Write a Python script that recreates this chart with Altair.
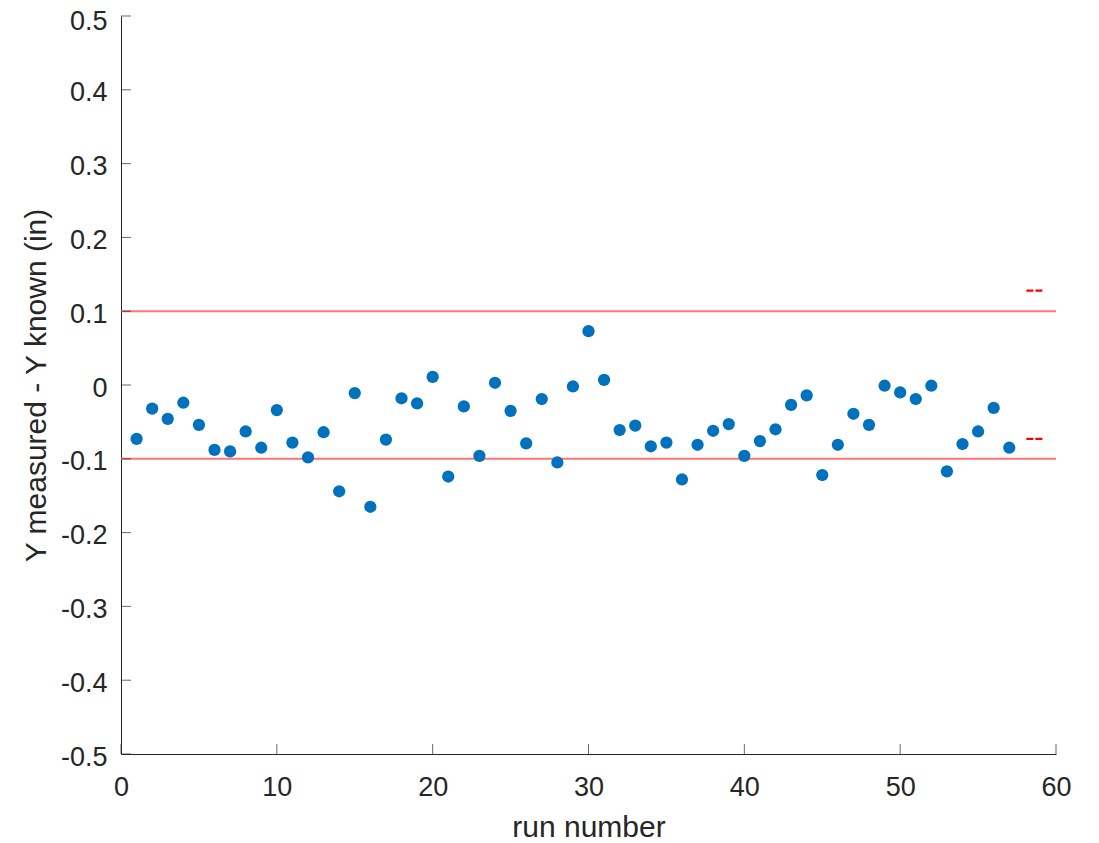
import altair as alt
import pandas as pd

run_number = [1, 2, 3, 4, 5, 6, 7, 8, 9, 10, 11, 12, 13, 14, 15, 16, 17, 18, 19, 20,
              21, 22, 23, 24, 25, 26, 27, 28, 29, 30, 31, 32, 33, 34, 35, 36, 37, 38, 39, 40,
              41, 42, 43, 44, 45, 46, 47, 48, 49, 50, 51, 52, 53, 54, 55, 56, 57]
y_diff = [-0.073, -0.032, -0.046, -0.024, -0.054, -0.088, -0.090, -0.063, -0.085, -0.034,
          -0.078, -0.098, -0.064, -0.144, -0.011, -0.165, -0.074, -0.018, -0.025, 0.011,
          -0.124, -0.029, -0.096, 0.003, -0.035, -0.079, -0.019, -0.105, -0.002, 0.073,
          0.007, -0.061, -0.055, -0.083, -0.078, -0.128, -0.081, -0.062, -0.053, -0.096,
          -0.076, -0.060, -0.027, -0.014, -0.122, -0.081, -0.039, -0.054, -0.001, -0.010,
          -0.019, -0.001, -0.117, -0.080, -0.063, -0.031, -0.085]

limit_y = [0.1, -0.1]
limit_x_start = [0, 0]
limit_x_end = [60, 60]

dash_y = [0.128, -0.073]
dash_x_start = [58.1, 58.1]
dash_x_end = [59.15, 59.15]

x_ticks = [0, 10, 20, 30, 40, 50, 60]
y_ticks = [-0.5, -0.4, -0.3, -0.2, -0.1, 0, 0.1, 0.2, 0.3, 0.4, 0.5]

FONT = "Liberation Sans"
TXT = "#262626"
W, H = 935, 738

pts = pd.DataFrame({"run": run_number, "diff": y_diff})
lims = pd.DataFrame({"y": limit_y, "x0": limit_x_start, "x1": limit_x_end})
dashes = pd.DataFrame({"y": dash_y, "x0": dash_x_start, "x1": dash_x_end})
xt = pd.DataFrame({"x": x_ticks})
yt = pd.DataFrame({"y": y_ticks})

xscale = alt.Scale(domain=[0, 60], nice=False, zero=False)
yscale = alt.Scale(domain=[-0.5, 0.5], nice=False, zero=False)

xaxis = alt.Axis(
    values=x_ticks, format="d", grid=False, ticks=False, tickSize=0,
    labelFlush=False, labelOverlap=False,
    labelFont=FONT, labelFontSize=27, labelColor=TXT, labelPadding=20,
    domainColor=TXT, domainWidth=1,
    title="run number", titleFont=FONT, titleFontSize=30, titleFontWeight="normal",
    titleColor=TXT, titleBaseline="alphabetic", titleX=W / 2, titleY=82,
    titleAlign="center",
)
yaxis = alt.Axis(
    values=y_ticks, grid=False, ticks=False, tickSize=0,
    labelFlush=False, labelOverlap=False,
    labelOffset={"condition": {"test": "datum.value > 0.45", "value": 5.5}, "value": 3},
    labelExpr="(datum.value < 0 ? '-' : '') + format(abs(datum.value), '.1~f')",
    labelFont=FONT, labelFontSize=27, labelColor=TXT, labelPadding=14,
    domainColor=TXT, domainWidth=1,
    title="Y measured - Y known (in)", titleFont=FONT, titleFontSize=30,
    titleFontWeight="normal", titleColor=TXT, titleBaseline="alphabetic",
    titleX=-76, titleY=H / 2, titleAlign="center", titleAngle=-90,
)

base_points = alt.Chart(pts).mark_point(
    filled=True, shape="circle", size=150, color="#0072BD", opacity=1
).encode(
    x=alt.X("run:Q", scale=xscale, axis=xaxis),
    y=alt.Y("diff:Q", scale=yscale, axis=yaxis),
)

limit_lines = alt.Chart(lims).mark_rule(color="#FF7575", strokeWidth=2).encode(
    x=alt.X("x0:Q", scale=xscale),
    x2="x1:Q",
    y=alt.Y("y:Q", scale=yscale),
)

dash_marks = alt.Chart(dashes).mark_rule(
    color="#FF0000", strokeWidth=2.2, strokeDash=[7, 2]
).encode(
    x=alt.X("x0:Q", scale=xscale),
    x2="x1:Q",
    y=alt.Y("y:Q", scale=yscale),
)

x_tick_marks = alt.Chart(xt).mark_tick(
    orient="vertical", size=10, thickness=1, color=TXT, yOffset=-5
).encode(
    x=alt.X("x:Q", scale=xscale),
    y=alt.datum(-0.5, scale=yscale),
)

y_tick_marks = alt.Chart(yt).mark_tick(
    orient="horizontal", size=10, thickness=1, color=TXT, xOffset=5
).encode(
    y=alt.Y("y:Q", scale=yscale),
    x=alt.datum(0, scale=xscale),
)

chart = alt.layer(
    limit_lines, dash_marks, x_tick_marks, y_tick_marks, base_points
).properties(
    width=W, height=H,
    background="white",
    autosize=alt.AutoSizeParams(type="none"),
    padding={"left": 113, "top": 8, "right": 35, "bottom": 88},
).configure_view(strokeWidth=0)

chart.save("out.html", embed_options={"renderer": "svg", "actions": False})
